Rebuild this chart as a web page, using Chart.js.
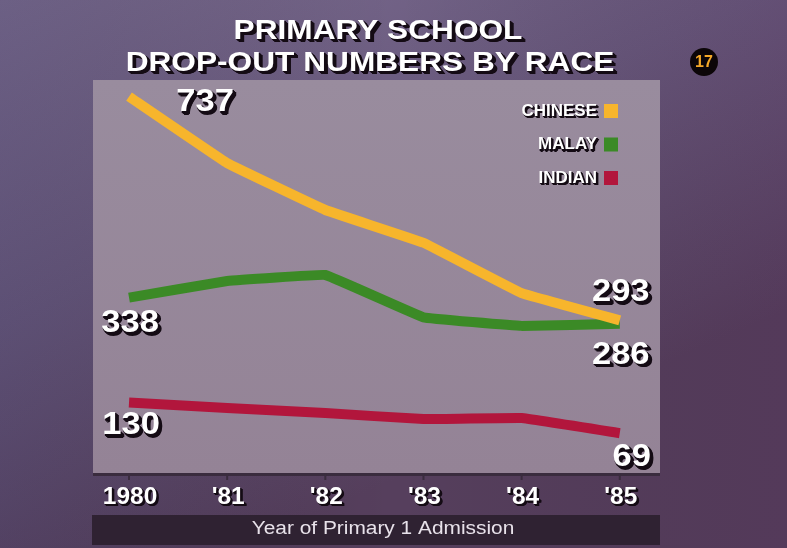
<!doctype html>
<html lang="en">
  <head>
    <meta charset="utf-8">
    <title>Primary School Drop-out Numbers by Race</title>
    <style>
      * { margin: 0; padding: 0; }
      body { width: 787px; height: 548px; overflow: hidden; background: #66557a; }
      .chartBox { width: 787px; height: 548px; }
    </style>
  </head>
  <body>
    <div class="chartBox">
      <canvas id="myChart" width="787" height="548"></canvas>
    </div>
    <script src="https://cdn.jsdelivr.net/npm/chart.js/dist/chart.umd.min.js"></script>
    <script>
    // data
    const years = ['1980', "'81", "'82", "'83", "'84", "'85"];
    const chinese = [737, 605, 512, 447, 347, 293];
    const malay = [338, 371, 383, 299, 282, 286];
    const indian = [130, 119, 109, 97, 99, 69];
    const raceNames = ['CHINESE', 'MALAY', 'INDIAN'];
    const titleLines = ['PRIMARY SCHOOL', 'DROP-OUT NUMBERS BY RACE'];
    const xTitle = 'Year of Primary 1 Admission';
    const pageNo = '17';

    const colors = ['#f7b52c', '#3b8a26', '#b2163c'];
    const FONT = '"Liberation Sans", Arial, sans-serif';

    // where the end labels sit relative to their point: [dx, dy] for first / last
    const labelOffsets = [
      [[76, 6], [1, -28]],
      [[1, 26], [1, 31]],
      [[2, 23], [12, 24]]
    ];

    function toPoints(arr) {
      return arr.map((v, i) => ({ x: i, y: v }));
    }

    // text with a dark drop shadow, optionally stretched sideways
    function shadowText(ctx, txt, x, y, font, color, depth, sx) {
      ctx.save();
      ctx.translate(x, y);
      ctx.scale(sx || 1, 1);
      ctx.font = font;
      ctx.fillStyle = '#140b14';
      for (let d = 1; d <= depth; d++) {
        ctx.fillText(txt, d, d);
        ctx.fillText(txt, d - 0.5, d + 0.5);
        ctx.fillText(txt, d + 0.5, d);
      }
      ctx.fillStyle = color;
      ctx.fillText(txt, 0, 0);
      ctx.restore();
    }

    const decor = {
      id: 'decor',
      beforeDraw(chart) {
        const { ctx, chartArea: a, width, height } = chart;
        ctx.save();
        // page background
        let g = ctx.createLinearGradient(0, 0, width * 0.3, height);
        g.addColorStop(0, '#7b6c90');
        g.addColorStop(0.5, '#68587c');
        g.addColorStop(1, '#563f5d');
        ctx.fillStyle = g;
        ctx.fillRect(0, 0, width, height);
        let g2 = ctx.createLinearGradient(0, 0, width, 0);
        g2.addColorStop(0, 'rgba(40,40,80,0.18)');
        g2.addColorStop(0.5, 'rgba(0,0,0,0)');
        g2.addColorStop(1, 'rgba(70,20,70,0.12)');
        ctx.fillStyle = g2;
        ctx.fillRect(0, 0, width, height);

        // plot panel
        let pg = ctx.createLinearGradient(0, a.top, 0, a.bottom);
        pg.addColorStop(0, '#998c9e');
        pg.addColorStop(1, '#948396');
        ctx.fillStyle = pg;
        ctx.fillRect(a.left, a.top, a.right - a.left, a.bottom - a.top);
        ctx.fillStyle = '#3a2c3e';
        ctx.fillRect(a.left, a.bottom, a.right - a.left, 3);

        // tick marks
        const xs = chart.scales.x;
        ctx.strokeStyle = '#3a2c3e';
        ctx.lineWidth = 2;
        years.forEach((y, i) => {
          const px = xs.getPixelForValue(i);
          ctx.beginPath();
          ctx.moveTo(px, a.bottom);
          ctx.lineTo(px, a.bottom + 7);
          ctx.stroke();
        });

        // x title bar
        ctx.fillStyle = '#2f2232';
        ctx.fillRect(a.left - 1, 515, a.right - a.left + 1, 30);
        ctx.textAlign = 'center';
        ctx.textBaseline = 'middle';
        ctx.save();
        ctx.translate(383, 529);
        ctx.scale(1.16, 1);
        ctx.font = '18px ' + FONT;
        ctx.fillStyle = '#e8e2ea';
        ctx.fillText(xTitle, 0, 0);
        ctx.restore();
        ctx.restore();
      },
      afterDatasetsDraw(chart) {
        const { ctx } = chart;
        const xs = chart.scales.x;
        ctx.save();
        ctx.textAlign = 'center';
        ctx.textBaseline = 'middle';

        // x tick labels
        years.forEach((y, i) => {
          shadowText(ctx, y, xs.getPixelForValue(i) + 1, 497, 'bold 24px ' + FONT, '#ffffff', 2, 1.02);
        });

        // end value labels
        chart.data.datasets.forEach((ds, di) => {
          const meta = chart.getDatasetMeta(di);
          const pts = [meta.data[0], meta.data[meta.data.length - 1]];
          const vals = [ds.data[0].y, ds.data[ds.data.length - 1].y];
          pts.forEach((p, k) => {
            const off = labelOffsets[di][k];
            shadowText(ctx, String(vals[k]), p.x + off[0], p.y + off[1], 'bold 32px ' + FONT, '#ffffff', 3, 1.08);
          });
        });

        // title
        shadowText(ctx, titleLines[0], 378, 31, 'bold 28px ' + FONT, '#ffffff', 3, 1.13);
        shadowText(ctx, titleLines[1], 370, 63, 'bold 28px ' + FONT, '#ffffff', 3, 1.13);

        // page badge
        ctx.fillStyle = '#0c0608';
        ctx.beginPath();
        ctx.arc(704, 62, 14, 0, Math.PI * 2);
        ctx.fill();
        ctx.font = 'bold 16px ' + FONT;
        ctx.fillStyle = '#f6a928';
        ctx.fillText(pageNo, 704, 63);

        // legend
        ctx.textAlign = 'right';
        raceNames.forEach((n, i) => {
          const y = 111 + i * 33.5;
          shadowText(ctx, n, 597, y, 'bold 17px ' + FONT, '#ffffff', 2, 1);
          ctx.fillStyle = colors[i];
          ctx.fillRect(604, y - 7, 14, 14);
        });
        ctx.restore();
      }
    };

    const data = {
      datasets: [
        { label: 'Chinese', data: toPoints(chinese) },
        { label: 'Malay', data: toPoints(malay) },
        { label: 'Indian', data: toPoints(indian) }
      ].map((d, i) => Object.assign(d, {
        borderColor: colors[i],
        borderWidth: 10,
        borderCapStyle: 'butt',
        borderJoinStyle: 'miter',
        pointRadius: 0,
        tension: 0.05,
        fill: false
      }))
    };

    const config = {
      type: 'line',
      data,
      plugins: [decor],
      options: {
        responsive: false,
        animation: false,
        layout: { padding: { left: 93, right: 127, top: 80, bottom: 75 } },
        scales: {
          x: { type: 'linear', min: -0.367, max: 5.41, display: false },
          y: { min: -10, max: 770, display: false }
        },
        plugins: {
          legend: { display: false },
          tooltip: { enabled: false }
        }
      }
    };

    const myChart = new Chart(document.getElementById('myChart'), config);
    </script>
  </body>
</html>
